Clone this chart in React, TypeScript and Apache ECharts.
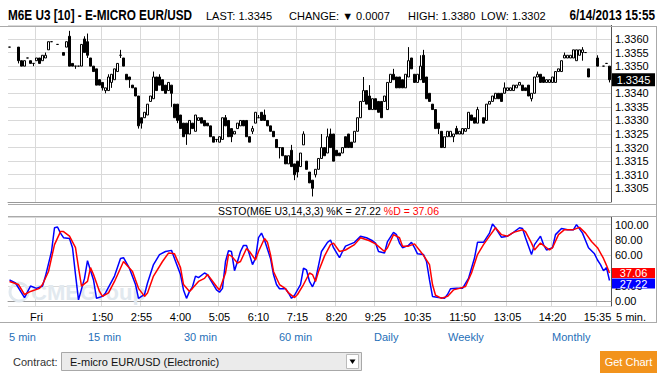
import React, { useEffect, useRef } from "react";
import * as echarts from "echarts";

// ---- categories: 5-minute bars from Thu 23:15 to Fri 15:55 ----
const START_MIN = 23 * 60 + 15;
const STEP_MIN = 5;
const BAR_COUNT = 201;
const categories: string[] = Array.from({ length: BAR_COUNT }, (_, i) => {
  const t = (START_MIN + STEP_MIN * i) % 1440;
  return `${Math.floor(t / 60)}:${String(t % 60).padStart(2, "0")}`;
});

const tickCategories = ["0:00", "1:50", "2:55", "4:00", "5:05", "6:10", "7:15", "8:20", "9:25", "10:35", "11:50", "13:05", "14:20", "15:35"];
const tickTexts = ["Fri", "1:50", "2:55", "4:00", "5:05", "6:10", "7:15", "8:20", "9:25", "10:35", "11:50", "13:05", "14:20", "15:35"];

// ---- price bars: [open, close, low, high]; null = no trade ----
const ohlc: (number[] | null)[] = [
  [1.3357, 1.3357, 1.3357, 1.3357], null, null,
  [1.3357, 1.3352, 1.3351, 1.3357], [1.3352, 1.3350, 1.3350, 1.3352], [1.3350, 1.3352, 1.3350, 1.3352],
  [1.3353, 1.3353, 1.3353, 1.3353], [1.3352, 1.3351, 1.3351, 1.3352], [1.3351, 1.3351, 1.3350, 1.3351],
  [1.3352, 1.3353, 1.3352, 1.3353], [1.3353, 1.3351, 1.3351, 1.3353], [1.3352, 1.3354, 1.3352, 1.3354],
  [1.3353, 1.3354, 1.3353, 1.3355], [1.3356, 1.3359, 1.3356, 1.3359], [1.3359, 1.3359, 1.3359, 1.3359],
  null, [1.3358, 1.3358, 1.3358, 1.3358], null,
  [1.3355, 1.3354, 1.3354, 1.3355], [1.3357, 1.3359, 1.3357, 1.3359], [1.3361, 1.3350, 1.3350, 1.3363],
  [1.3351, 1.3350, 1.3350, 1.3351], [1.3350, 1.3350, 1.3349, 1.3350], [1.3350, 1.3350, 1.3350, 1.3350],
  [1.3350, 1.3358, 1.3350, 1.3358], [1.3360, 1.3355, 1.3355, 1.3361], [1.3359, 1.3354, 1.3353, 1.3362],
  [1.3353, 1.3350, 1.3350, 1.3353], [1.3350, 1.3348, 1.3348, 1.3350], [1.3349, 1.3343, 1.3343, 1.3349],
  [1.3345, 1.3343, 1.3343, 1.3345], [1.3344, 1.3342, 1.3341, 1.3344], [1.3341, 1.3342, 1.3340, 1.3342],
  [1.3341, 1.3346, 1.3341, 1.3347], [1.3344, 1.3347, 1.3342, 1.3347], [1.3345, 1.3349, 1.3345, 1.3349],
  [1.3348, 1.3351, 1.3348, 1.3351], [1.3354, 1.3354, 1.3353, 1.3356], [1.3353, 1.3350, 1.3350, 1.3353],
  [1.3347, 1.3345, 1.3345, 1.3347], [1.3346, 1.3345, 1.3342, 1.3346], [1.3343, 1.3342, 1.3342, 1.3343],
  [1.3342, 1.3339, 1.3339, 1.3342], [1.3339, 1.3328, 1.3327, 1.3339], [1.3331, 1.3329, 1.3327, 1.3331],
  [1.3331, 1.3333, 1.3331, 1.3333], [1.3332, 1.3336, 1.3332, 1.3336], [1.3337, 1.3339, 1.3337, 1.3339],
  [1.3338, 1.3346, 1.3338, 1.3348], [1.3346, 1.3341, 1.3341, 1.3346], [1.3346, 1.3343, 1.3343, 1.3347],
  [1.3345, 1.3341, 1.3341, 1.3345], [1.3343, 1.3340, 1.3340, 1.3343], [1.3341, 1.3344, 1.3341, 1.3344],
  [1.3343, 1.3340, 1.3335, 1.3343], [1.3336, 1.3331, 1.3331, 1.3336], [1.3336, 1.3330, 1.3329, 1.3336],
  [1.3332, 1.3327, 1.3327, 1.3332], [1.3329, 1.3324, 1.3324, 1.3329], [1.3329, 1.3325, 1.3321, 1.3329],
  [1.3325, 1.3330, 1.3325, 1.3330], [1.3329, 1.3327, 1.3327, 1.3329], [1.3326, 1.3332, 1.3326, 1.3332],
  [1.3330, 1.3331, 1.3330, 1.3331], [1.3331, 1.3329, 1.3329, 1.3331], [1.3330, 1.3328, 1.3328, 1.3330],
  [1.3329, 1.3328, 1.3328, 1.3329], [1.3328, 1.3324, 1.3324, 1.3328], [1.3324, 1.3322, 1.3322, 1.3324],
  [1.3323, 1.3323, 1.3322, 1.3323], [1.3322, 1.3324, 1.3322, 1.3324], [1.3323, 1.3331, 1.3323, 1.3331],
  [1.3331, 1.3328, 1.3328, 1.3332], [1.3330, 1.3324, 1.3324, 1.3330], [1.3327, 1.3324, 1.3322, 1.3327],
  [1.3325, 1.3326, 1.3325, 1.3326], [1.3327, 1.3329, 1.3327, 1.3329], [1.3328, 1.3330, 1.3328, 1.3330],
  [1.3330, 1.3328, 1.3328, 1.3330], [1.3330, 1.3324, 1.3324, 1.3330], [1.3324, 1.3322, 1.3322, 1.3324],
  [1.3326, 1.3327, 1.3325, 1.3328], [1.3329, 1.3333, 1.3329, 1.3333], [1.3331, 1.3331, 1.3331, 1.3332],
  [1.3333, 1.3330, 1.3330, 1.3333], [1.3332, 1.3330, 1.3330, 1.3334], [1.3330, 1.3328, 1.3328, 1.3330],
  [1.3328, 1.3326, 1.3326, 1.3328], [1.3326, 1.3324, 1.3324, 1.3326], [1.3323, 1.3320, 1.3320, 1.3323],
  [1.3320, 1.3320, 1.3316, 1.3320], [1.3320, 1.3317, 1.3317, 1.3320], [1.3317, 1.3314, 1.3314, 1.3317],
  [1.3314, 1.3317, 1.3314, 1.3317], [1.3319, 1.3313, 1.3313, 1.3321], [1.3314, 1.3310, 1.3308, 1.3314],
  [1.3315, 1.3311, 1.3309, 1.3315], [1.3313, 1.3318, 1.3313, 1.3318], [1.3321, 1.3325, 1.3321, 1.3326],
  [1.3315, 1.3312, 1.3312, 1.3315], [1.3311, 1.3307, 1.3307, 1.3311], [1.3308, 1.3305, 1.3302, 1.3308],
  [1.3310, 1.3312, 1.3309, 1.3312], [1.3312, 1.3316, 1.3312, 1.3316], [1.3316, 1.3320, 1.3316, 1.3325],
  [1.3320, 1.3317, 1.3317, 1.3320], [1.3318, 1.3324, 1.3318, 1.3327], [1.3325, 1.3320, 1.3320, 1.3327],
  [1.3325, 1.3315, 1.3315, 1.3325], [1.3319, 1.3317, 1.3317, 1.3319], [1.3318, 1.3317, 1.3317, 1.3318],
  [1.3318, 1.3320, 1.3318, 1.3320], [1.3324, 1.3320, 1.3320, 1.3324], [1.3325, 1.3320, 1.3320, 1.3325],
  [1.3322, 1.3320, 1.3320, 1.3322], [1.3322, 1.3326, 1.3322, 1.3326], [1.3326, 1.3331, 1.3326, 1.3331],
  [1.3331, 1.3337, 1.3331, 1.3337], [1.3337, 1.3341, 1.3337, 1.3346], [1.3341, 1.3336, 1.3336, 1.3341],
  [1.3339, 1.3334, 1.3334, 1.3343], [1.3334, 1.3338, 1.3334, 1.3338], [1.3338, 1.3334, 1.3334, 1.3338],
  [1.3337, 1.3333, 1.3333, 1.3337], [1.3337, 1.3331, 1.3331, 1.3337], [1.3337, 1.3339, 1.3337, 1.3339],
  [1.3334, 1.3344, 1.3334, 1.3344], [1.3344, 1.3347, 1.3344, 1.3347], [1.3347, 1.3345, 1.3345, 1.3349],
  [1.3346, 1.3342, 1.3342, 1.3346], [1.3346, 1.3342, 1.3342, 1.3346], [1.3345, 1.3342, 1.3342, 1.3345],
  [1.3342, 1.3347, 1.3342, 1.3347], [1.3346, 1.3352, 1.3346, 1.3357], [1.3353, 1.3349, 1.3349, 1.3353],
  [1.3347, 1.3344, 1.3344, 1.3347], [1.3344, 1.3347, 1.3344, 1.3347], [1.3345, 1.3350, 1.3345, 1.3354],
  [1.3354, 1.3344, 1.3344, 1.3356], [1.3346, 1.3338, 1.3338, 1.3346], [1.3340, 1.3337, 1.3337, 1.3340],
  [1.3336, 1.3334, 1.3334, 1.3336], [1.3334, 1.3327, 1.3327, 1.3334], [1.3329, 1.3327, 1.3325, 1.3329],
  [1.3326, 1.3320, 1.3320, 1.3326], [1.3320, 1.3324, 1.3320, 1.3324], [1.3324, 1.3326, 1.3324, 1.3326],
  [1.3324, 1.3326, 1.3324, 1.3326], [1.3324, 1.3325, 1.3322, 1.3325], [1.3327, 1.3325, 1.3325, 1.3328],
  [1.3325, 1.3326, 1.3325, 1.3326], [1.3325, 1.3327, 1.3325, 1.3327], [1.3326, 1.3327, 1.3326, 1.3327],
  [1.3327, 1.3333, 1.3327, 1.3333], [1.3332, 1.3330, 1.3330, 1.3332], [1.3331, 1.3329, 1.3329, 1.3331],
  [1.3329, 1.3334, 1.3329, 1.3335], null, [1.3331, 1.3329, 1.3329, 1.3331],
  [1.3330, 1.3336, 1.3330, 1.3336], [1.3336, 1.3337, 1.3336, 1.3337], [1.3337, 1.3339, 1.3337, 1.3339],
  [1.3338, 1.3340, 1.3338, 1.3340], [1.3340, 1.3338, 1.3338, 1.3340], [1.3340, 1.3337, 1.3337, 1.3340],
  [1.3340, 1.3342, 1.3340, 1.3344], [1.3341, 1.3342, 1.3341, 1.3342], [1.3341, 1.3342, 1.3341, 1.3342],
  [1.3341, 1.3343, 1.3341, 1.3343], [1.3342, 1.3343, 1.3342, 1.3343], [1.3343, 1.3344, 1.3343, 1.3344],
  [1.3343, 1.3341, 1.3341, 1.3343], [1.3342, 1.3341, 1.3341, 1.3342], [1.3343, 1.3339, 1.3339, 1.3343],
  [1.3338, 1.3340, 1.3337, 1.3340], [1.3340, 1.3346, 1.3340, 1.3346], [1.3346, 1.3347, 1.3346, 1.3348],
  [1.3347, 1.3344, 1.3344, 1.3347], [1.3346, 1.3344, 1.3344, 1.3346], [1.3344, 1.3345, 1.3344, 1.3345],
  [1.3344, 1.3345, 1.3344, 1.3345], [1.3344, 1.3346, 1.3344, 1.3346], [1.3344, 1.3348, 1.3344, 1.3348],
  [1.3348, 1.3349, 1.3348, 1.3349], [1.3348, 1.3352, 1.3348, 1.3352], [1.3353, 1.3354, 1.3353, 1.3355],
  [1.3353, 1.3354, 1.3353, 1.3354], [1.3353, 1.3354, 1.3353, 1.3354], [1.3353, 1.3356, 1.3353, 1.3356],
  [1.3352, 1.3356, 1.3352, 1.3356], [1.3354, 1.3356, 1.3354, 1.3356], [1.3355, 1.3356, 1.3352, 1.3357],
  [1.3355, 1.3355, 1.3355, 1.3355], [1.3349, 1.3346, 1.3346, 1.3349], null,
  null, [1.3353, 1.3350, 1.3350, 1.3354], null,
  [1.3350, 1.3350, 1.3350, 1.3350], [1.3351, 1.3351, 1.3351, 1.3351], [1.3350, 1.3345, 1.3344, 1.3350],
];

// ---- slow stochastic (14,3,3): vertices of %K and %D ----
const kPoints: [string, number][] = [
  ["23:15", 28], ["23:25", 24], ["23:40", 5], ["23:50", 20], ["0:00", 17], ["0:10", 20], ["0:15", 33], ["0:25", 65],
  ["0:30", 96], ["0:35", 97], ["0:40", 89], ["0:45", 83], ["0:55", 82], ["1:00", 70], ["1:05", 35], ["1:10", 2],
  ["1:20", 30], ["1:25", 53], ["1:35", 28], ["1:40", 4], ["1:50", 6.5], ["1:55", 11], ["2:10", 33], ["2:20", 56],
  ["2:25", 57], ["2:35", 43], ["2:45", 22], ["2:50", 4], ["3:00", 9], ["3:05", 24], ["3:15", 48], ["3:25", 61],
  ["3:35", 65], ["3:45", 66.5], ["3:50", 56], ["4:00", 35], ["4:05", 15], ["4:10", 4], ["4:15", 13], ["4:20", 19],
  ["4:25", 33], ["4:30", 31], ["4:40", 37], ["4:45", 35], ["4:50", 28], ["5:00", 15], ["5:05", 12], ["5:10", 17],
  ["5:15", 52], ["5:20", 66], ["5:25", 65], ["5:30", 40], ["5:35", 52], ["5:40", 65], ["5:45", 73], ["5:50", 73],
  ["5:55", 61], ["6:00", 48], ["6:05", 56], ["6:10", 83], ["6:15", 89], ["6:20", 80], ["6:30", 56], ["6:35", 35],
  ["6:40", 22], ["6:45", 16.5], ["6:55", 16.5], ["7:00", 11], ["7:05", 4], ["7:10", 8], ["7:20", 22], ["7:25", 43.5],
  ["7:30", 41], ["7:35", 26], ["7:40", 19], ["7:45", 28], ["7:55", 65], ["8:05", 77], ["8:10", 80], ["8:15", 70],
  ["8:25", 57], ["8:30", 65], ["8:35", 72], ["8:50", 77], ["9:00", 85], ["9:10", 83], ["9:20", 79], ["9:25", 76],
  ["9:30", 65], ["9:40", 63], ["9:45", 78], ["9:55", 90], ["10:00", 87], ["10:05", 76], ["10:10", 70], ["10:20", 73],
  ["10:25", 77], ["10:30", 70], ["10:35", 62], ["10:45", 61], ["10:50", 52], ["10:55", 28], ["11:00", 6.5], ["11:10", 5],
  ["11:20", 4], ["11:25", 9], ["11:30", 16.5], ["11:40", 17], ["11:50", 17], ["12:00", 30], ["12:10", 56.5], ["12:15", 77],
  ["12:25", 77], ["12:35", 89], ["12:40", 101], ["12:45", 96], ["12:55", 83.5], ["13:05", 85], ["13:15", 90], ["13:25", 96],
  ["13:30", 95], ["13:35", 83], ["13:45", 61], ["13:50", 74], ["14:00", 85], ["14:05", 74], ["14:10", 67], ["14:20", 70],
  ["14:25", 87], ["14:35", 95], ["14:45", 93.5], ["14:55", 93.5], ["15:00", 100], ["15:10", 89], ["15:20", 70], ["15:30", 62],
  ["15:35", 54], ["15:40", 48], ["15:45", 40], ["15:50", 44], ["15:55", 27.22],
];
const dPoints: [string, number][] = [
  ["23:15", 26], ["23:30", 22], ["23:40", 9], ["23:50", 13], ["0:05", 17], ["0:10", 22], ["0:20", 39], ["0:30", 74],
  ["0:40", 91], ["0:45", 91], ["0:55", 85], ["1:05", 70], ["1:10", 44], ["1:15", 20], ["1:25", 26], ["1:30", 44],
  ["1:35", 35], ["1:45", 13], ["1:50", 6.5], ["2:00", 11], ["2:10", 26], ["2:25", 52], ["2:40", 39], ["2:50", 17],
  ["3:00", 6.5], ["3:05", 11], ["3:15", 33], ["3:30", 52], ["3:40", 63], ["3:50", 62], ["4:00", 44], ["4:05", 22],
  ["4:15", 13], ["4:20", 17], ["4:30", 26], ["4:40", 30], ["4:45", 35], ["4:50", 30], ["5:00", 19.5], ["5:05", 15],
  ["5:15", 37], ["5:20", 61], ["5:25", 59], ["5:35", 50], ["5:40", 52], ["5:50", 69], ["5:55", 65], ["6:05", 54],
  ["6:10", 65], ["6:20", 82], ["6:25", 77], ["6:30", 61], ["6:35", 39], ["6:45", 22], ["6:55", 16.5], ["7:00", 11],
  ["7:10", 5], ["7:15", 9], ["7:25", 22], ["7:35", 37], ["7:40", 35], ["7:45", 26], ["7:50", 39], ["8:00", 59],
  ["8:10", 74], ["8:15", 76], ["8:25", 65], ["8:35", 67], ["8:50", 74], ["9:00", 83], ["9:15", 79], ["9:25", 75],
  ["9:40", 65], ["9:45", 70], ["9:55", 87], ["10:05", 83], ["10:10", 72], ["10:20", 72], ["10:30", 75], ["10:40", 65],
  ["10:45", 60], ["10:55", 48], ["11:00", 22], ["11:05", 8], ["11:15", 4], ["11:25", 6.5], ["11:35", 15], ["11:45", 17],
  ["11:55", 19.5], ["12:05", 37], ["12:15", 61], ["12:25", 74], ["12:35", 85], ["12:45", 96], ["12:55", 87], ["13:05", 85],
  ["13:15", 90], ["13:30", 93.5], ["13:35", 91], ["13:45", 76], ["13:50", 67], ["14:00", 76], ["14:15", 67], ["14:20", 70],
  ["14:30", 87], ["14:40", 93.5], ["14:55", 93.5], ["15:05", 96.5], ["15:15", 89], ["15:25", 78], ["15:35", 70], ["15:45", 56],
  ["15:50", 47], ["15:55", 37.06],
];

const LAST = 1.3345;
const LAST_K = 27.22;
const LAST_D = 37.06;
// axis labels hidden behind the value boxes in the reference
const hiddenPriceLabels = ["1.3345"];
const hiddenStochLabels = ["40.00"];

const SANS = "'Liberation Sans', Arial, sans-serif";
const GRID_COLOR = "#d9d9d9";

function txt(text: string, x: number, y: number, font: string, fill: string, align = "left") {
  return {
    type: "text",
    z: 10,
    style: { text, x, y, font, fill, textAlign: align, align, textVerticalAlign: "middle", verticalAlign: "middle" },
  };
}
// condensed bold text (narrow look by horizontal scaling)
function narrow(text: string, x: number, y: number, align = "left") {
  return {
    type: "text",
    z: 10,
    x, y, scaleX: 0.84, scaleY: 1,
    style: { text, x: 0, y: 0, font: `bold 14px ${SANS}`, fill: "#000", textAlign: align, align, textVerticalAlign: "middle", verticalAlign: "middle" },
  };
}
function hline(x1: number, x2: number, y: number, stroke: string) {
  return { type: "line", z: 10, shape: { x1, y1: y, x2, y2: y }, style: { stroke, lineWidth: 1 } };
}
function vline(x: number, y1: number, y2: number, stroke: string) {
  return { type: "line", z: 10, shape: { x1: x, y1, x2: x, y2 }, style: { stroke, lineWidth: 1 } };
}

export default function App() {
  const ref = useRef<HTMLDivElement>(null);
  useEffect(() => {
    if (!ref.current) return;
    const chart = echarts.init(ref.current, undefined, { renderer: "svg" });
    const tickSet = new Set(tickCategories);
    const showTick = (_i: number, v: string) => tickSet.has(v);
    const toIdx = (pts: [string, number][]) => pts.map(([t, v]) => [categories.indexOf(t), v]);

    const option: any = {
      animation: false,
      backgroundColor: "#ffffff",
      grid: [
        { left: 8, top: 25.4, width: 603, height: 176.5 },
        { left: 8, top: 217, width: 603, height: 89 },
      ],
      xAxis: [
        {
          type: "category", gridIndex: 0, data: categories, boundaryGap: true,
          axisLine: { show: true, lineStyle: { color: "#999" } },
          axisTick: { show: false }, axisLabel: { show: false },
          splitLine: { show: true, interval: showTick, lineStyle: { color: GRID_COLOR, width: 1 } },
        },
        {
          type: "category", gridIndex: 1, data: categories, boundaryGap: true,
          axisLine: { show: true, lineStyle: { color: "#999" } },
          axisTick: { show: false },
          axisLabel: {
            show: true, interval: showTick, color: "#000", fontSize: 11, fontFamily: SANS, margin: 5,
            formatter: (v: string) => tickTexts[tickCategories.indexOf(v)] ?? v,
          },
          splitLine: { show: true, interval: showTick, lineStyle: { color: GRID_COLOR, width: 1 } },
        },
      ],
      yAxis: [
        {
          type: "value", gridIndex: 0, position: "right", min: 1.33, max: 1.3365, interval: 0.0005,
          axisLine: { show: true, lineStyle: { color: "#555" } }, axisTick: { show: false },
          axisLabel: {
            color: "#000", fontSize: 11, fontFamily: SANS, margin: 4, showMinLabel: false, showMaxLabel: false,
            formatter: (v: number) => (hiddenPriceLabels.includes(v.toFixed(4)) ? "" : v.toFixed(4)),
          },
          splitLine: { show: true, lineStyle: { color: GRID_COLOR, width: 1 } },
        },
        {
          type: "value", gridIndex: 1, position: "right", min: -6, max: 110, splitNumber: 5,
          axisLine: { show: true, lineStyle: { color: "#555" } }, axisTick: { show: false },
          axisLabel: {
            color: "#000", fontSize: 11, fontFamily: SANS, margin: 4, showMinLabel: false, showMaxLabel: false,
            formatter: (v: number) => (hiddenStochLabels.includes(v.toFixed(2)) ? "" : v.toFixed(2)),
          },
          splitLine: { show: true, lineStyle: { color: GRID_COLOR, width: 1 } },
        },
      ],
      series: [
        {
          type: "candlestick", xAxisIndex: 0, yAxisIndex: 0, barWidth: 2,
          data: ohlc.map((r) => (r ? r : "-")),
          itemStyle: { color: "#ffffff", color0: "#000000", borderColor: "#000000", borderColor0: "#000000", borderWidth: 1 },
          markPoint: {
            symbol: "rect", symbolSize: [43, 13], symbolOffset: [24, 0], silent: true,
            itemStyle: { color: "#000" },
            label: { show: true, position: "inside", color: "#fff", fontSize: 11, fontFamily: SANS, formatter: () => LAST.toFixed(4) },
            data: [{ coord: [BAR_COUNT - 1, LAST], value: LAST }],
          },
        },
        {
          type: "line", xAxisIndex: 1, yAxisIndex: 1, data: toIdx(kPoints), symbol: "none",
          lineStyle: { color: "#0000ff", width: 1.5 }, itemStyle: { color: "#0000ff" },
          markPoint: {
            symbol: "rect", symbolSize: [43, 10], symbolOffset: [24, 3], silent: true,
            itemStyle: { color: "#0000ff" },
            label: { show: true, position: "inside", color: "#fff", fontSize: 11, fontFamily: SANS, formatter: () => LAST_K.toFixed(2) },
            data: [{ coord: [BAR_COUNT - 1, LAST_K], value: LAST_K }],
          },
        },
        {
          type: "line", xAxisIndex: 1, yAxisIndex: 1, data: toIdx(dPoints), symbol: "none",
          lineStyle: { color: "#ff0000", width: 1.5 }, itemStyle: { color: "#ff0000" },
          markPoint: {
            symbol: "rect", symbolSize: [43, 10], symbolOffset: [24, 0], silent: true,
            itemStyle: { color: "#ff0000" },
            label: { show: true, position: "inside", color: "#fff", fontSize: 11, fontFamily: SANS, formatter: () => LAST_D.toFixed(2) },
            data: [{ coord: [BAR_COUNT - 1, LAST_D], value: LAST_D }],
          },
        },
      ],
      graphic: [
        // watermark
        { type: "circle", z: 1, shape: { cx: 19, cy: 292, r: 9 }, style: { fill: "none", stroke: "#e2e9ef", lineWidth: 3 } },
        { type: "text", z: 1, style: { text: "CMEGroup", x: 31, y: 292, font: `bold 22px ${SANS}`, fill: "#e2e9ef", textVerticalAlign: "middle", verticalAlign: "middle" } },
        // header
        narrow("M6E U3 [10] - E-MICRO EUR/USD", 8, 15),
        txt("LAST: 1.3345", 206, 16, `11px ${SANS}`, "#000"),
        txt("CHANGE: \u25BC 0.0007", 289, 16, `11px ${SANS}`, "#000"),
        txt("HIGH: 1.3380", 408, 16, `11px ${SANS}`, "#000"),
        txt("LOW: 1.3302", 481, 16, `11px ${SANS}`, "#000"),
        narrow("6/14/2013 15:55", 655, 15, "right"),
        // frame
        hline(0, 657, 26.5, "#aaa"),
        vline(656.5, 26, 323, "#aaa"),
        hline(0, 657, 322.5, "#aaa"),
        hline(8, 656, 204.5, "#aaa"),
        hline(8, 656, 216.5, "#aaa"),
        {
          type: "text", z: 10,
          style: {
            text: "SSTO(M6E U3,14,3,3) %K = 27.22 {r|%D = 37.06}", x: 218, y: 211,
            font: `10.5px ${SANS}`, fill: "#000", textVerticalAlign: "middle", verticalAlign: "middle",
            rich: { r: { fill: "#ff0000", font: `10.5px ${SANS}` } },
          },
        },
        txt("5 min.", 616, 317, `11px ${SANS}`, "#000"),
        // period links
        txt("5 min", 9, 337, `11px ${SANS}`, "#1f6fb8"),
        txt("15 min", 88, 337, `11px ${SANS}`, "#1f6fb8"),
        txt("30 min", 184, 337, `11px ${SANS}`, "#1f6fb8"),
        txt("60 min", 279, 337, `11px ${SANS}`, "#1f6fb8"),
        txt("Daily", 374, 337, `11px ${SANS}`, "#1f6fb8"),
        txt("Weekly", 448, 337, `11px ${SANS}`, "#1f6fb8"),
        txt("Monthly", 552, 337, `11px ${SANS}`, "#1f6fb8"),
        // contract selector
        txt("Contract:", 13, 362, `11px ${SANS}`, "#333"),
        { type: "rect", z: 10, shape: { x: 61.5, y: 352.5, width: 300, height: 18 }, style: { fill: "#ebebeb", stroke: "#a8a8a8", lineWidth: 1 } },
        txt("E-micro EUR/USD (Electronic)", 70, 362, `11px ${SANS}`, "#111"),
        { type: "rect", z: 11, shape: { x: 346.5, y: 354.5, width: 12, height: 14 }, style: { fill: "#ffffff", stroke: "#bbb", lineWidth: 1 } },
        { type: "polygon", z: 12, shape: { points: [[349.5, 359.5], [355.5, 359.5], [352.5, 364]] }, style: { fill: "#000" } },
        // button
        { type: "rect", z: 10, shape: { x: 600, y: 351, width: 57, height: 22 }, style: { fill: "#f2931c" } },
        txt("Get Chart", 628.5, 362, `11px ${SANS}`, "#ffffff", "center"),
      ],
    };
    chart.setOption(option);
    return () => chart.dispose();
  }, []);
  return <div ref={ref} style={{ position: "absolute", left: 0, top: 0, width: 663, height: 378 }} />;
}
